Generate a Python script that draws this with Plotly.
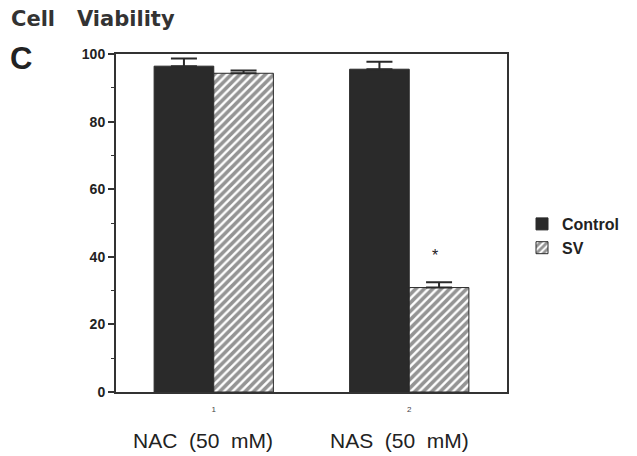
import plotly.graph_objects as go

categories = [1, 2]
group_labels = ["NAC  (50  mM)", "NAS  (50  mM)"]
control_vals = [96.4, 95.5]
control_err = [2.3, 2.2]
sv_vals = [94.3, 30.9]
sv_err = [0.8, 1.6]
y_ticks = [0, 20, 40, 60, 80, 100]

# page offset (browser body margin) and figure geometry in window pixels
OFF = 8
W, H = 637 - OFF, 456 - OFF
L, R, T, B = 116 - OFF, 637 - 507, 54 - OFF, 456 - 392
PW, PH = 507 - 116, 392 - 54
def px(xp): return (xp - 116) / PW
def py(yp): return (392 - yp) / PH

dark = "#2a2a2a"
fig = go.Figure()
fig.add_trace(go.Bar(
    x=categories, y=control_vals, name="Control",
    marker=dict(color=dark, line=dict(color=dark, width=1)),
    error_y=dict(type="data", array=control_err, arrayminus=[0, 0], symmetric=False,
                 color=dark, thickness=2, width=13),
))
fig.add_trace(go.Bar(
    x=categories, y=sv_vals, name="SV",
    marker=dict(color="white", line=dict(color=dark, width=1),
                pattern=dict(shape="/", fgcolor=dark, bgcolor="white", size=6, solidity=0.6)),
    error_y=dict(type="data", array=sv_err, arrayminus=[0, 0], symmetric=False,
                 color=dark, thickness=2, width=13),
))

label_x = [0.944, 1.95]
for xv, lab in zip(label_x, group_labels):
    fig.add_annotation(x=xv, y=py(440), xref="x", yref="paper", text=lab, showarrow=False,
                       font=dict(family="Liberation Sans, Arial, sans-serif", size=21, color="#222"),
                       yanchor="middle")

# significance star
fig.add_annotation(x=2.13, y=py(256), xref="x", yref="paper", text="*", showarrow=False,
                   font=dict(family="Arial", size=16, color="#222"), yanchor="middle")

fig.add_annotation(x=px(9), y=py(19), xref="paper", yref="paper", text="<b>Cell   Viability</b>",
                   showarrow=False, font=dict(family="DejaVu Sans", size=21, color="#333"),
                   xanchor="left", yanchor="middle")
fig.add_annotation(x=px(8), y=py(59), xref="paper", yref="paper", text="<b>C</b>", showarrow=False,
                   font=dict(family="Arial", size=31, color="#222"), xanchor="left", yanchor="middle")

fig.update_layout(
    width=W, height=H,
    margin=dict(l=L, r=R, t=T, b=B, autoexpand=False),
    paper_bgcolor="white", plot_bgcolor="white",
    barmode="group", bargap=0.39, bargroupgap=0,
    showlegend=True,
    legend=dict(x=px(522), y=py(207), xanchor="left", yanchor="top",
                font=dict(family="Arial", size=16, color="#222", weight="bold"), tracegroupgap=2,
                bgcolor="rgba(0,0,0,0)"),
    xaxis=dict(range=[0.5, 2.5], tickvals=categories, ticktext=["1", "2"], showline=True,
               linecolor="#333", linewidth=2, mirror=True, ticks="", showgrid=False, zeroline=False,
               ticklabelstandoff=8,
               tickfont=dict(family="Arial", size=8, color="#444"), fixedrange=True),
    yaxis=dict(range=[0, 100], tickvals=y_ticks, showline=True, linecolor="#333", linewidth=2,
               mirror=True, ticks="outside", ticklen=6, tickwidth=2, tickcolor="#333",
               showgrid=False, zeroline=False,
               tickfont=dict(family="Arial", size=14, color="#222", weight="bold"),
               minor=dict(tickvals=[10, 30, 50, 70, 90], ticks="outside", ticklen=3,
                          tickcolor="#333", tickwidth=1)),
)

fig.write_html("out.html")
